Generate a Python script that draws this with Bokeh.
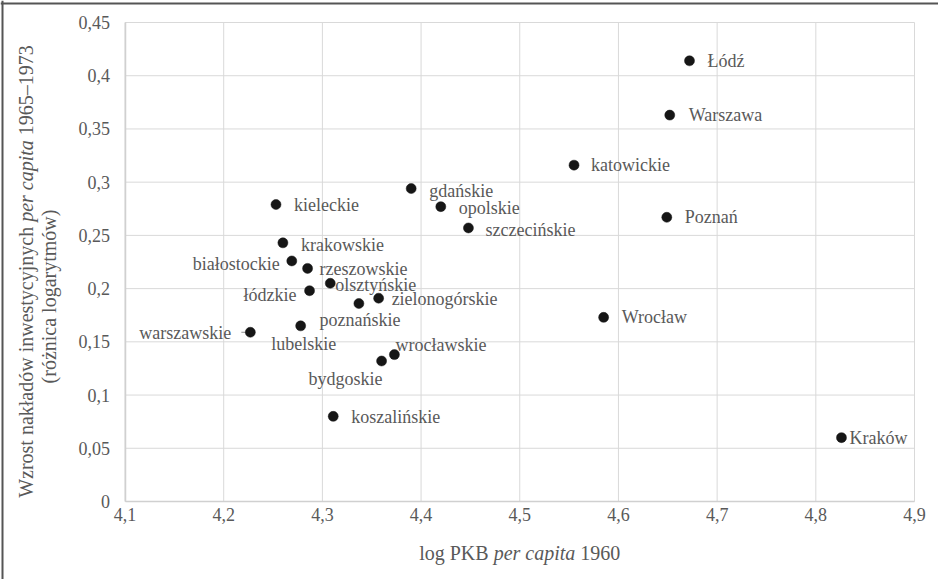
import math
from bokeh.plotting import figure
from bokeh.models import Range1d, FixedTicker, Label, ColumnDataSource, LinearAxis, Span
from bokeh.embed import file_html
from bokeh.resources import INLINE

# ---------------- data ----------------
regions = ["Łódź", "Warszawa", "katowickie", "Poznań", "Wrocław", "Kraków",
           "gdańskie", "opolskie", "szczecińskie", "kieleckie", "krakowskie",
           "białostockie", "rzeszowskie", "olsztyńskie", "łódzkie", "zielonogórskie",
           "poznańskie", "lubelskie", "warszawskie", "wrocławskie", "bydgoskie",
           "koszalińskie"]
log_gdp_1960 = [4.672, 4.652, 4.555, 4.649, 4.585, 4.826,
                4.390, 4.420, 4.448, 4.253, 4.260,
                4.269, 4.285, 4.308, 4.287, 4.357,
                4.337, 4.278, 4.227, 4.373, 4.360,
                4.311]
invest_growth = [0.414, 0.363, 0.316, 0.267, 0.173, 0.060,
                 0.294, 0.277, 0.257, 0.279, 0.243,
                 0.226, 0.219, 0.205, 0.198, 0.191,
                 0.186, 0.165, 0.159, 0.138, 0.132,
                 0.080]

x_ticks = [4.1, 4.2, 4.3, 4.4, 4.5, 4.6, 4.7, 4.8, 4.9]
x_tick_labels = ["4,1", "4,2", "4,3", "4,4", "4,5", "4,6", "4,7", "4,8", "4,9"]
y_ticks = [0, 0.05, 0.1, 0.15, 0.2, 0.25, 0.3, 0.35, 0.4, 0.45]
y_tick_labels = ["0", "0,05", "0,1", "0,15", "0,2", "0,25", "0,3", "0,35", "0,4", "0,45"]

# axis titles as (word group, italic) pieces, joined by spaces
x_title = [("log PKB", False), ("per capita", True), ("1960", False)]
y_title_1 = [("Wzrost nakładów inwestycyjnych", False), ("per capita", True), ("1965–1973", False)]
y_title_2 = [("(różnica logarytmów)", False)]

# ---------------- label layout (screen px: dx, dy(down), align) ----------------
label_layout = {
    "Łódź": (18, 0, "left"), "Warszawa": (19, 0, "left"), "katowickie": (17, 0, "left"),
    "Poznań": (18, 0, "left"), "Wrocław": (18, 0, "left"), "Kraków": (8, 0, "left"),
    "gdańskie": (18, 2, "left"), "opolskie": (18, 1, "left"), "szczecińskie": (17, 2, "left"),
    "kieleckie": (18, 0, "left"), "krakowskie": (18, 2, "left"), "białostockie": (-12, 3, "right"),
    "rzeszowskie": (12, 1, "left"), "olsztyńskie": (5, 2, "left"), "łódzkie": (-13, 4, "right"),
    "zielonogórskie": (13, 1, "left"), "poznańskie": (1, 16, "center"), "lubelskie": (3, 18, "center"),
    "warszawskie": (-19, 1, "right"), "wrocławskie": (1, -10, "left"), "bydgoskie": (1, 18, "right"),
    "koszalińskie": (18, 1, "left"),
}
leader_line_regions = ["warszawskie"]

# canvas and plot-area rectangle (canvas px; canvas starts at page (8, 8))
W, H = 938, 579
AREA_L, AREA_R, AREA_T, AREA_B = 124.5, 914.0, 22.0, 501.0
XMIN, XMAX, YMIN, YMAX = 4.1, 4.9, 0.0, 0.45
px_x = (AREA_R - AREA_L) / (XMAX - XMIN)
px_y = (AREA_B - AREA_T) / (YMAX - YMIN)
x_start = XMIN - AREA_L / px_x
x_end = XMAX + (W - AREA_R) / px_x
y_start = YMIN - (H - AREA_B) / px_y
y_end = YMAX + AREA_T / px_y

FONT = "Liberation Serif"
GREY = "#595959"
GRID = "#d9d9d9"

p = figure(width=W, height=H, output_backend="svg", toolbar_location=None,
           x_range=Range1d(x_start, x_end), y_range=Range1d(y_start, y_end),
           x_axis_type=None, y_axis_type=None, min_border=0,
           background_fill_color="white", border_fill_color="white",
           outline_line_color=None)

# outer chart border (left and top edges visible)
p.add_layout(Span(location=x_start + 2.0 / px_x, dimension="height", line_color="#555555", line_width=2))
p.add_layout(Span(location=y_end - 3.0 / px_y, dimension="width", line_color="#555555", line_width=2))

# grid lines from the tick lists
p.segment(x0=x_ticks, y0=[YMIN] * len(x_ticks), x1=x_ticks, y1=[YMAX] * len(x_ticks),
          line_color=GRID, line_width=1)
p.segment(x0=[XMIN] * len(y_ticks), y0=y_ticks, x1=[XMAX] * len(y_ticks), y1=y_ticks,
          line_color=GRID, line_width=1)

xaxis = LinearAxis(fixed_location=YMIN, bounds=(XMIN, XMAX), ticker=FixedTicker(ticks=x_ticks),
                   major_label_overrides={t: l for t, l in zip(x_ticks, x_tick_labels)})
yaxis = LinearAxis(fixed_location=XMIN, bounds=(YMIN, YMAX), ticker=FixedTicker(ticks=y_ticks),
                   major_label_overrides={t: l for t, l in zip(y_ticks, y_tick_labels)})
for ax in (xaxis, yaxis):
    ax.major_tick_line_color = None
    ax.minor_tick_line_color = None
    ax.major_tick_out = 0
    ax.major_tick_in = 0
    ax.axis_line_color = "#d0d0d0"
    ax.axis_line_width = 1.5
    ax.major_label_text_font = FONT
    ax.major_label_text_font_size = "18px"
    ax.major_label_text_color = GREY
xaxis.major_label_standoff = 6
yaxis.major_label_standoff = 15
p.add_layout(xaxis, "below")
p.add_layout(yaxis, "left")

src = ColumnDataSource(dict(
    x=log_gdp_1960, y=invest_growth, name=regions,
    dx=[label_layout[r][0] for r in regions],
    dy=[label_layout[r][1] for r in regions],
    align=[label_layout[r][2] for r in regions],
    font=[FONT] * len(regions),
))

# short leader line(s) from a point towards its label
lead = [regions.index(r) for r in leader_line_regions]
p.ray(x=[log_gdp_1960[i] for i in lead], y=[invest_growth[i] for i in lead],
      length=9, length_units="screen", angle=math.pi, line_color="#8c8c8c", line_width=1)

p.scatter("x", "y", source=src, size=10, fill_color="#161616", line_color="#161616", line_width=0.5)
p.text("x", "y", text="name", source=src, x_offset="dx", y_offset="dy", text_align="align",
       text_baseline="middle", text_font="font", text_font_size="18px", text_color=GREY)

# --------------- axis titles with mixed italic -----------------
TIMES = {' ': 250, '(': 333, ')': 333, ',': 250, '–': 500, 'W': 944, 'P': 556, 'K': 722,
         'B': 667, 'a': 444, 'c': 444, 'd': 500, 'e': 444, 'g': 500, 'h': 500, 'i': 278,
         'j': 278, 'k': 500, 'l': 278, 'ł': 278, 'm': 778, 'n': 500, 'o': 500, 'ó': 500,
         'r': 333, 's': 389, 't': 278, 'w': 722, 'y': 500, 'z': 444, 'ż': 444, 'p': 500}
TIMES_I = {' ': 250, 'p': 500, 'e': 444, 'r': 389, 'c': 444, 'a': 500, 'i': 278, 't': 278}
TS = 20
SPACE = 0.25 * TS


def text_w(s, italic, size):
    tbl = TIMES_I if italic else TIMES
    return sum(tbl.get(ch, 500) for ch in s) * size / 1000.0


def total_w(pieces):
    return sum(text_w(s, it, TS) for s, it in pieces) + SPACE * (len(pieces) - 1)


def put(s, it, x, y, angle=0.0):
    p.add_layout(Label(x=x, y=y, text=s, angle=angle, text_font=FONT, text_font_size=f"{TS}px",
                       text_font_style="italic" if it else "normal", text_color=GREY,
                       text_align="left", text_baseline="middle"))


# x title: centred under the plot area, text middle 51 px below the axis
cur = (XMIN + XMAX) / 2 - total_w(x_title) / 2 / px_x
mid_y = YMIN - 51 / px_y
for s, it in x_title:
    put(s, it, cur, mid_y)
    cur += (text_w(s, it, TS) + SPACE) / px_x


def y_title(pieces, mid_px_left_of_area, center_px_above_axis):
    cur = YMIN + (center_px_above_axis - total_w(pieces) / 2) / px_y
    xm = XMIN - mid_px_left_of_area / px_x
    for s, it in pieces:
        put(s, it, xm, cur, math.pi / 2)
        cur += (text_w(s, it, TS) + SPACE) / px_y


y_title(y_title_1, 99, 230)
y_title(y_title_2, 76, 205)

open("out.html", "w").write(file_html(p, INLINE))
